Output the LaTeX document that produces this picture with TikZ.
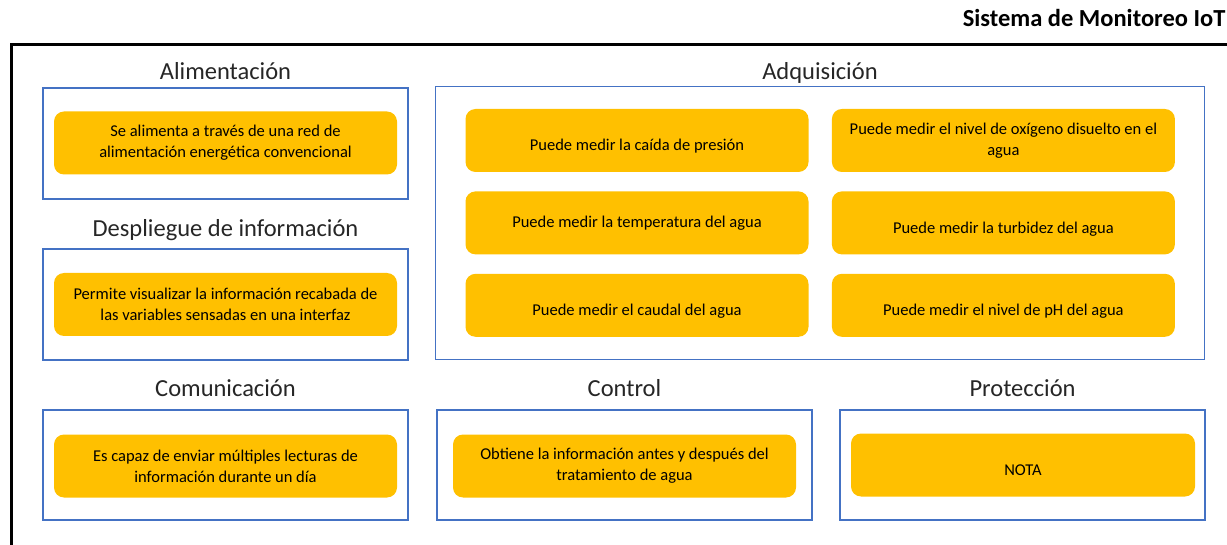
\documentclass[tikz,border=0pt]{standalone}
\usepackage{fontspec}
\setmainfont{Carlito}
\usetikzlibrary{positioning}
\definecolor{azul}{HTML}{4472C4}
\definecolor{ambar}{HTML}{FFC000}
\tikzset{
    x=1pt, y=-1pt,
    bloque/.style={draw=azul, line width=1.5pt, minimum width=365pt, minimum height=111pt, inner sep=0pt},
    tarjeta/.style={fill=ambar, rounded corners=10pt, minimum width=343pt, minimum height=63pt,
        inner sep=0pt, align=center, font=\fontsize{16.5}{21}\selectfont},
    unalinea/.style={text height=25pt, text depth=4pt},
    titulo/.style={anchor=base, font=\fontsize{24.5}{28}\selectfont, text=black!85}
}

\begin{document}
\begin{tikzpicture}
    \useasboundingbox (0,0) rectangle (1227,545);
    % marco general
    \draw[line width=3pt] (11.5,45) rectangle (1260,580);
    \node[anchor=base east, font=\bfseries\fontsize{24.5}{28}\selectfont] (sistema) at (1229,27) {Sistema de Monitoreo IoT};

    % alimentacion
    \node[titulo] (t-alim) at (225.5,80) {Alimentación};
    \node[bloque] (b-alim) at (225.5,143.5) {};
    \node[tarjeta] (c-alim) at (225.5,143) {Se alimenta a través de una red de\\alimentación energética convencional};

    % despliegue
    \node[titulo] (t-desp) at (225.5,237) {Despliegue de información};
    \node[bloque] (b-desp) at (225.5,304.5) {};
    \node[tarjeta] (c-desp) at (225.5,304.5) {Permite visualizar la información recabada de\\las variables sensadas en una interfaz};

    % adquisicion
    \node[titulo] (t-adq) at (820,80) {Adquisición};
    \node[bloque, minimum width=769pt, minimum height=273pt] (b-adq) at (820,223) {};
    \node[tarjeta, unalinea] (c-pres) at (637,140.5) {Puede medir la caída de presión};
    \node[tarjeta, below=19pt of c-pres] (c-temp) {Puede medir la temperatura del agua};
    \node[tarjeta, unalinea, below=19pt of c-temp] (c-caud) {Puede medir el caudal del agua};
    \node[tarjeta, right=23pt of c-pres] (c-oxi) {Puede medir el nivel de oxígeno disuelto en el\\agua};
    \node[tarjeta, unalinea, right=23pt of c-temp] (c-turb) {Puede medir la turbidez del agua};
    \node[tarjeta, unalinea, right=23pt of c-caud] (c-ph) {Puede medir el nivel de pH del agua};

    % comunicacion
    \node[titulo] (t-com) at (225.5,396) {Comunicación};
    \node[bloque, minimum height=110pt] (b-com) at (225.5,465) {};
    \node[tarjeta] (c-com) at (225.5,466) {Es capaz de enviar múltiples lecturas de\\información durante un día};

    % control
    \node[titulo] (t-ctrl) at (624.5,396) {Control};
    \node[bloque, minimum width=375pt, minimum height=110pt] (b-ctrl) at (624.5,465) {};
    \node[tarjeta] (c-ctrl) at (624.5,466) {Obtiene la información antes y después del\\tratamiento de agua};

    % proteccion
    \node[titulo] (t-prot) at (1022.5,396) {Protección};
    \node[bloque, minimum height=110pt] (b-prot) at (1022.5,465) {};
    \node[tarjeta, unalinea, minimum width=344pt] (c-prot) at (1023,465) {NOTA};
\end{tikzpicture}
\end{document}
